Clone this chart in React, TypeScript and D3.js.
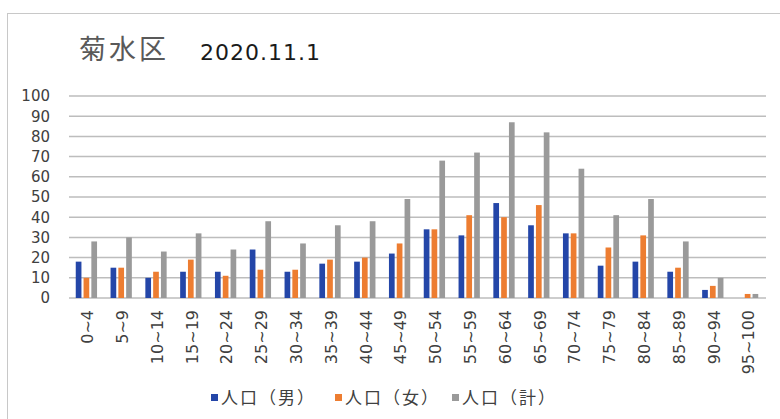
import React from "react";
import * as d3 from "d3";

const categories = ["0~4","5~9","10~14","15~19","20~24","25~29","30~34","35~39","40~44","45~49","50~54","55~59","60~64","65~69","70~74","75~79","80~84","85~89","90~94","95~100"];
const male = [18,15,10,13,13,24,13,17,18,22,34,31,47,36,32,16,18,13,4,0];
const female = [10,15,13,19,11,14,14,19,20,27,34,41,40,46,32,25,31,15,6,2];
const total = [28,30,23,32,24,38,27,36,38,49,68,72,87,82,64,41,49,28,10,2];
const seriesNames = ["人口（男）","人口（女）","人口（計）"];
const seriesColors = ["#2446A8","#ED7D31","#9A9A9A"];
const yTicks = [0,10,20,30,40,50,60,70,80,90,100];

const W = 780, H = 419;
const CJK = "'Noto Sans CJK JP', sans-serif";
const LAT = "'DejaVu Sans', sans-serif";

export default function App() {
  const x0 = d3.scaleBand<string>().domain(categories).range([69, 765]).paddingInner(0.388).paddingOuter(0.194);
  const x1 = d3.scaleBand<number>().domain([0,1,2]).range([0, x0.bandwidth()]).paddingInner(0.27);
  const y = d3.scaleLinear().domain([0, 100]).range([298, 96]);
  const series = [male, female, total];

  return (
    <div style={{ position: "absolute", left: 0, top: 0 }}>
      <svg width={W} height={H} style={{ display: "block" }}>
        <rect x={0} y={0} width={W} height={H} fill="#fff" />
        <rect x={7.5} y={13.5} width={W} height={H} fill="#fff" stroke="#C8C8C8" strokeWidth={1} />
        <text x={79} y={59} fontSize={27} letterSpacing={3} fontFamily={CJK} fill="#595959">菊水区</text>
        <text x={200} y={60} fontSize={22} letterSpacing={1} fontFamily={LAT} fill="#1a1a1a">2020.11.1</text>
        {yTicks.map(t => (
          <g key={t}>
            <line x1={69} x2={766} y1={y(t)} y2={y(t)} stroke="#BDBDBD" strokeWidth={1.5} />
            <text x={50} y={y(t)} dy="0.36em" textAnchor="end" fontSize={15} fontFamily={LAT} fill="#404040">{t}</text>
          </g>
        ))}
        {categories.map((c, i) => (
          <g key={c} transform={`translate(${x0(c)},0)`}>
            {series.map((s, k) => (
              <rect key={k} x={x1(k)} width={x1.bandwidth()} y={y(s[i])} height={y(0) - y(s[i])} fill={seriesColors[k]} />
            ))}
          </g>
        ))}
        {categories.map(c => (
          <text key={c} transform={`translate(${(x0(c) as number) + x0.bandwidth() / 2 + 1},310) rotate(-90)`} textAnchor="end" dy="0.36em" fontSize={16} fontFamily={LAT} fill="#404040">{c}</text>
        ))}
        {seriesNames.map((n, k) => {
          const lx = [211, 335, 452][k];
          return (
            <g key={n}>
              <rect x={lx} y={394} width={7} height={7} fill={seriesColors[k]} />
              <text x={lx + 10} y={398} dy="0.36em" fontSize={17} letterSpacing={2} fontFamily={CJK} fill="#404040">{n}</text>
            </g>
          );
        })}
      </svg>
    </div>
  );
}
